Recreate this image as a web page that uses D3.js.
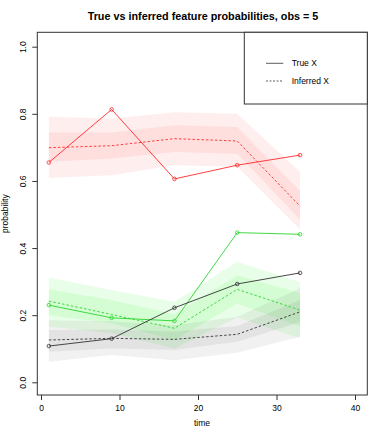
<!DOCTYPE html>
<html lang="en">
<head>
<meta charset="UTF-8">
<title>True vs inferred feature probabilities</title>
<script src="https://d3js.org/d3.v7.min.js"></script>
<style>
  body { margin: 0; background: #fff; }
  svg text { font-family: "Liberation Sans", Arial, Helvetica, sans-serif; fill: #000; }
</style>
</head>
<body>
<div id="chart"></div>
<script>
// time points
const times = [1, 9, 17, 25, 33];

// feature 1 (red)
const redTrue     = [0.655, 0.813, 0.606, 0.647, 0.677];
const redInferred = [0.699, 0.705, 0.726, 0.719, 0.525];
const redLo95     = [0.609, 0.617, 0.647, 0.642, 0.455];
const redLo50     = [0.657, 0.667, 0.686, 0.681, 0.485];
const redHi50     = [0.744, 0.744, 0.766, 0.761, 0.570];
const redHi95     = [0.791, 0.786, 0.805, 0.800, 0.627];

// feature 2 (green)
const greenTrue     = [0.230, 0.192, 0.183, 0.446, 0.441];
const greenInferred = [0.242, 0.202, 0.161, 0.277, 0.215];
const greenLo95     = [0.166, 0.146, 0.101, 0.193, 0.131];
const greenLo50     = [0.200, 0.176, 0.126, 0.235, 0.166];
const greenHi50     = [0.277, 0.245, 0.203, 0.319, 0.265];
const greenHi95     = [0.312, 0.275, 0.240, 0.359, 0.299];

// feature 3 (black)
const blackTrue     = [0.108, 0.130, 0.222, 0.293, 0.326];
const blackInferred = [0.126, 0.131, 0.128, 0.143, 0.210];
const blackLo95     = [0.061, 0.081, 0.066, 0.088, 0.136];
const blackLo50     = [0.091, 0.101, 0.096, 0.121, 0.180];
const blackHi50     = [0.156, 0.157, 0.151, 0.168, 0.245];
const blackHi95     = [0.185, 0.182, 0.170, 0.195, 0.280];

const xTicks = [0, 10, 20, 30, 40];
const yTicks = [0, 0.2, 0.4, 0.6, 0.8, 1.0];

const features = [
  { line: "#ff2a2a", band: "#ff0000", bandOp: 0.065, tru: redTrue, inf: redInferred,
    lo95: redLo95, lo50: redLo50, hi50: redHi50, hi95: redHi95 },
  { line: "#2cd42c", band: "#00ee00", bandOp: 0.085, tru: greenTrue, inf: greenInferred,
    lo95: greenLo95, lo50: greenLo50, hi50: greenHi50, hi95: greenHi95 },
  { line: "#333333", band: "#000000", bandOp: 0.055, tru: blackTrue, inf: blackInferred,
    lo95: blackLo95, lo50: blackLo50, hi50: blackHi50, hi95: blackHi95 }
];

const width = 387, height = 436;
const box = { left: 37.3, right: 367.3, top: 32.3, bottom: 395 };

const x = d3.scaleLinear().domain([0, 40]).range([41, 355]);
const y = d3.scaleLinear().domain([0, 1]).range([382.3, 46.7]);

const svg = d3.select("#chart").append("svg")
  .attr("width", width)
  .attr("height", height);

// bands
const area = d3.area()
  .x(d => x(d.t))
  .y0(d => y(d.lo))
  .y1(d => y(d.hi));

features.forEach(f => {
  [[f.lo95, f.hi95], [f.lo50, f.hi50]].forEach(([lo, hi]) => {
    svg.append("path")
      .datum(times.map((t, i) => ({ t: t, lo: lo[i], hi: hi[i] })))
      .attr("d", area)
      .attr("fill", f.band)
      .attr("fill-opacity", f.bandOp);
  });
});

// lines
const line = d3.line()
  .x(d => x(d.t))
  .y(d => y(d.v));

features.forEach(f => {
  svg.append("path")
    .datum(times.map((t, i) => ({ t: t, v: f.inf[i] })))
    .attr("d", line)
    .attr("fill", "none")
    .attr("stroke", f.line)
    .attr("stroke-width", 0.9)
    .attr("stroke-dasharray", "2.5,2");

  svg.append("path")
    .datum(times.map((t, i) => ({ t: t, v: f.tru[i] })))
    .attr("d", line)
    .attr("fill", "none")
    .attr("stroke", f.line)
    .attr("stroke-width", 0.9);

  svg.selectAll(null)
    .data(times.map((t, i) => ({ t: t, v: f.tru[i] })))
    .join("circle")
    .attr("cx", d => x(d.t))
    .attr("cy", d => y(d.v))
    .attr("r", 1.8)
    .attr("fill", "none")
    .attr("stroke", f.line)
    .attr("stroke-width", 0.8);
});

// plot box
svg.append("rect")
  .attr("x", box.left)
  .attr("y", box.top)
  .attr("width", box.right - box.left)
  .attr("height", box.bottom - box.top)
  .attr("fill", "none")
  .attr("stroke", "#333")
  .attr("stroke-width", 1);

// axes
const xAxis = svg.append("g")
  .attr("transform", `translate(0,${box.bottom})`)
  .call(d3.axisBottom(x).tickValues(xTicks).tickSize(5).tickFormat(d3.format("d")));
xAxis.select(".domain").remove();
xAxis.selectAll("line").attr("stroke", "#333");
xAxis.selectAll("text")
  .attr("y", 15.5).attr("dy", null)
  .attr("font-size", 8.5)
  .style("font-family", "'Liberation Sans', Arial, sans-serif");

const yAxis = svg.append("g")
  .attr("transform", `translate(${box.left},0)`)
  .call(d3.axisLeft(y).tickValues(yTicks).tickSize(5).tickFormat(d3.format(".1f")));
yAxis.select(".domain").remove();
yAxis.selectAll("line").attr("stroke", "#333");
yAxis.selectAll("text")
  .attr("x", null).attr("dy", null)
  .attr("text-anchor", "middle")
  .attr("transform", "translate(-11.8,0) rotate(-90)")
  .attr("font-size", 8.5)
  .style("font-family", "'Liberation Sans', Arial, sans-serif");

// titles
svg.append("text")
  .attr("x", 203)
  .attr("y", 19.8)
  .attr("text-anchor", "middle")
  .attr("font-size", 10.8)
  .attr("font-weight", "bold")
  .text("True vs inferred feature probabilities, obs = 5");

svg.append("text")
  .attr("x", 202)
  .attr("y", 425.5)
  .attr("text-anchor", "middle")
  .attr("font-size", 8.5)
  .text("time");

svg.append("text")
  .attr("transform", `translate(8,${(box.top + box.bottom) / 2}) rotate(-90)`)
  .attr("text-anchor", "middle")
  .attr("font-size", 8.5)
  .text("probability");

// legend
const legend = svg.append("g");
legend.append("rect")
  .attr("x", 244.3)
  .attr("y", box.top)
  .attr("width", box.right - 244.3)
  .attr("height", 104 - box.top)
  .attr("fill", "#fff")
  .attr("stroke", "#333")
  .attr("stroke-width", 1);

[["True X", null, 63.3], ["Inferred X", "2,1.5", 81]].forEach(([label, dash, ly]) => {
  legend.append("line")
    .attr("x1", 266).attr("x2", 283.3)
    .attr("y1", ly).attr("y2", ly)
    .attr("stroke", "#333")
    .attr("stroke-width", 0.8)
    .attr("stroke-dasharray", dash);
  legend.append("text")
    .attr("x", 291.7)
    .attr("y", ly + 3)
    .attr("font-size", 8.5)
    .text(label);
});
</script>
</body>
</html>
